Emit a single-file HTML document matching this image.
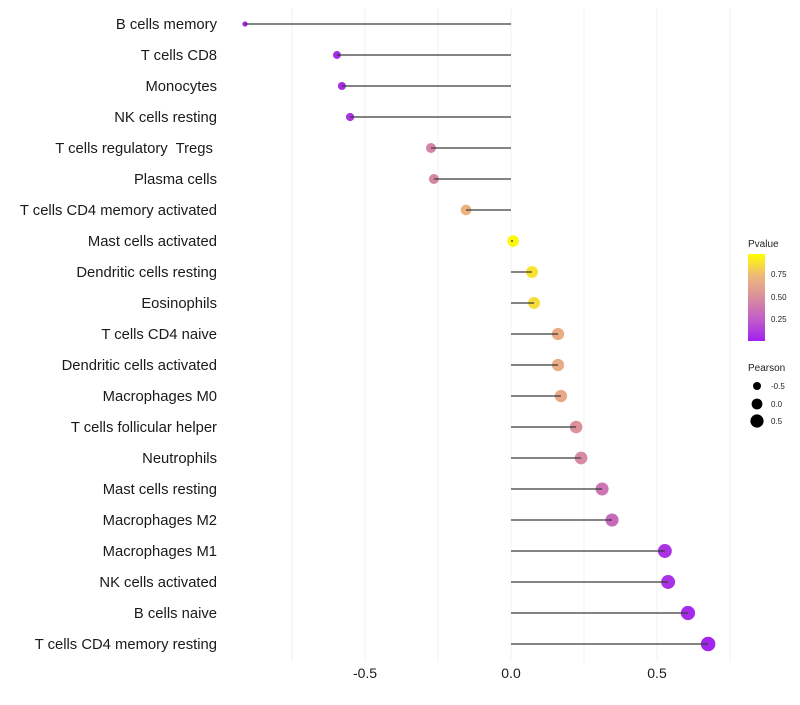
<!DOCTYPE html>
<html><head><meta charset="utf-8"><style>
body{margin:0;background:#fff;}
svg{font-family:"Liberation Sans",sans-serif;}
</style></head><body>
<svg id="chart" width="800" height="700" xmlns="http://www.w3.org/2000/svg">
<rect width="800" height="700" fill="#fff"/>
<g id="grid"></g>
<g id="marks"></g>
<g id="ylabels"></g>
<g id="xlabels"></g>
<g id="legend">
<text x="748" y="247" font-size="10" fill="#222">Pvalue</text>
<defs><linearGradient id="pg" x1="0" y1="1" x2="0" y2="0">
<stop offset="0" stop-color="#a020f0"/><stop offset="0.25" stop-color="#c25cc8"/><stop offset="0.5" stop-color="#d98e9e"/><stop offset="0.75" stop-color="#efb87a"/><stop offset="1" stop-color="#ffff00"/></linearGradient></defs>
<rect x="748" y="254" width="17" height="87" fill="url(#pg)"/>
<text x="771" y="277" font-size="8" fill="#222">0.75</text>
<text x="771" y="300" font-size="8" fill="#222">0.50</text>
<text x="771" y="322" font-size="8" fill="#222">0.25</text>
<text x="748" y="371" font-size="10" fill="#222">Pearson</text>
<circle cx="757" cy="386" r="4" fill="#000"/>
<circle cx="757" cy="404" r="5.4" fill="#000"/>
<circle cx="757" cy="421" r="6.6" fill="#000"/>
<text x="771" y="389" font-size="8" fill="#222">-0.5</text>
<text x="771" y="407" font-size="8" fill="#222">0.0</text>
<text x="771" y="424" font-size="8" fill="#222">0.5</text>
</g>
</svg>
<script>
const categories=["B cells memory","T cells CD8","Monocytes","NK cells resting","T cells regulatory\u00a0 Tregs\u00a0","Plasma cells","T cells CD4 memory activated","Mast cells activated","Dendritic cells resting","Eosinophils","T cells CD4 naive","Dendritic cells activated","Macrophages M0","T cells follicular helper","Neutrophils","Mast cells resting","Macrophages M2","Macrophages M1","NK cells activated","B cells naive","T cells CD4 memory resting"];
const pearson=[-0.911,-0.596,-0.579,-0.551,-0.274,-0.264,-0.154,0.007,0.072,0.079,0.161,0.161,0.171,0.223,0.240,0.312,0.346,0.527,0.538,0.606,0.675];
const pvalues=[0.02,0.05,0.06,0.08,0.45,0.47,0.72,0.98,0.9,0.88,0.68,0.68,0.66,0.52,0.48,0.37,0.32,0.08,0.07,0.04,0.02];
const xTicks=[-0.5,0,0.5];
const xTickLabels=["-0.5","0.0","0.5"];
const gridVals=[-0.75,-0.5,-0.25,0,0.25,0.5,0.75];
const NS="http://www.w3.org/2000/svg";
const x=v=>511+v*292;
const y=i=>24+i*31;
function rad(v){return Math.sqrt(Math.max(1,33+29*v));}
const stops=[[0,[160,32,240]],[0.25,[194,92,200]],[0.5,[217,142,158]],[0.75,[239,184,122]],[1,[255,255,0]]];
function col(p){for(let k=0;k<stops.length-1;k++){const a=stops[k],b=stops[k+1];if(p<=b[0]){const t=(p-a[0])/(b[0]-a[0]);return "rgb("+a[1].map((c,j)=>Math.round(c+(b[1][j]-c)*t)).join(",")+")";}}return "rgb(255,255,0)";}
function mk(tag,attrs,parent){const e=document.createElementNS(NS,tag);for(const k in attrs)e.setAttribute(k,attrs[k]);document.getElementById(parent).appendChild(e);return e;}
gridVals.forEach(v=>{const l=mk("line",{x1:x(v),x2:x(v),y1:8,y2:662,stroke:"#f0f0f0","stroke-width":1},"grid");

});
categories.forEach((c,i)=>{
const pt=mk("circle",{cx:x(pearson[i]),cy:y(i),r:rad(pearson[i]),fill:col(pvalues[i])},"marks");


const seg=mk("line",{x1:x(0),x2:x(pearson[i]),y1:y(i),y2:y(i),stroke:"#3a3a3a","stroke-width":1.3},"marks");


const t=mk("text",{x:217,y:y(i)+5,"text-anchor":"end","font-size":14.8,fill:"#1a1a1a"},"ylabels");
t.textContent=c;


});
xTicks.forEach((v,i)=>{const t=mk("text",{x:x(v),y:678,"text-anchor":"middle","font-size":14,fill:"#1a1a1a"},"xlabels");
t.textContent=xTickLabels[i];

});
</script>
</body></html>
